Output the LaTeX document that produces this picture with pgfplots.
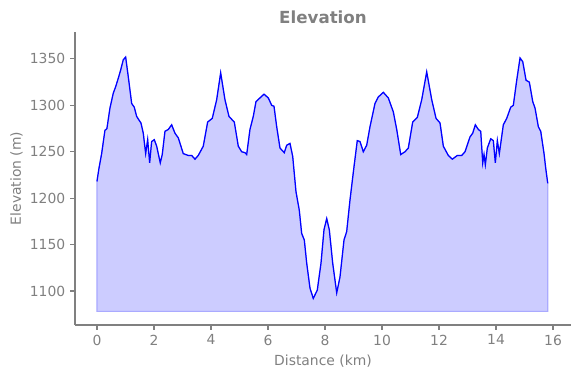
\documentclass[border=0pt]{standalone}
\usepackage{pgfplots}
\pgfplotsset{compat=1.18}
\usepackage{pgfplotstable}
\usepgfplotslibrary{fillbetween}
\usepackage{fontspec}
\setmainfont{DejaVu Sans}
\definecolor{mgray}{HTML}{808080}
\definecolor{fillblue}{HTML}{CCCCFF}
\definecolor{edgeblue}{HTML}{AAAAFF}
\pgfplotstableread{
x y
0.000 1218
0.070 1232
0.165 1248
0.280 1273
0.350 1275
0.456 1297
0.572 1313
0.656 1320
0.747 1329
0.832 1338
0.923 1349
1.007 1352
1.098 1331
1.218 1302
1.309 1298
1.393 1288
1.544 1281
1.625 1270
1.709 1248
1.779 1263
1.849 1238
1.919 1261
2.011 1263
2.095 1256
2.221 1238
2.291 1247
2.386 1272
2.502 1274
2.621 1279
2.737 1270
2.853 1265
3.028 1248
3.204 1246
3.323 1246
3.439 1242
3.554 1246
3.730 1256
3.884 1282
4.046 1286
4.200 1306
4.340 1335
4.491 1306
4.632 1288
4.818 1282
4.958 1256
5.077 1250
5.193 1249
5.253 1247
5.368 1274
5.484 1288
5.579 1304
5.719 1308
5.860 1312
6.011 1308
6.130 1300
6.211 1299
6.305 1277
6.421 1254
6.572 1249
6.656 1257
6.772 1259
6.867 1245
6.982 1207
7.098 1187
7.182 1162
7.274 1155
7.358 1130
7.474 1103
7.589 1092
7.730 1101
7.860 1130
7.965 1166
8.060 1178
8.151 1166
8.270 1130
8.411 1098
8.526 1115
8.667 1155
8.761 1164
8.877 1198
9.018 1234
9.133 1262
9.228 1261
9.344 1250
9.463 1257
9.579 1277
9.754 1302
9.870 1309
10.046 1314
10.221 1308
10.396 1293
10.516 1274
10.656 1247
10.807 1250
10.923 1254
11.077 1282
11.239 1287
11.393 1306
11.568 1336
11.744 1306
11.895 1286
12.035 1281
12.151 1256
12.326 1246
12.467 1242
12.642 1246
12.796 1246
12.912 1250
13.088 1266
13.182 1270
13.274 1279
13.379 1274
13.463 1272
13.533 1238
13.579 1247
13.625 1236
13.695 1254
13.814 1264
13.905 1262
13.975 1238
14.046 1262
14.116 1248
14.256 1279
14.375 1286
14.516 1298
14.607 1300
14.726 1327
14.842 1351
14.937 1347
15.053 1327
15.168 1325
15.288 1304
15.368 1297
15.484 1277
15.568 1272
15.684 1248
15.744 1232
15.814 1216
}\profile
\begin{document}
\begin{tikzpicture}
\begin{axis}[
  at={(0,0)}, anchor=south west,
  scale only axis,
  width=357.12pt, height=210.96pt,
  xmin=-0.77, xmax=16.63, ymin=1063.4, ymax=1379,
  axis x line*=bottom, axis y line*=left,
  axis line style={mgray, line width=0.8pt},
  every tick/.style={mgray, line width=0.8pt},
  tick align=outside, major tick length=3.5pt,
  xtick={0,2,...,16}, ytick={1100,1150,...,1350},
  /pgf/number format/assume math mode=true,
  /pgf/number format/1000 sep={},
  tick label style={font=\fontsize{10}{12}\selectfont, text=mgray},
  xlabel={Distance (km)}, ylabel={Elevation (m)},
  label style={font=\fontsize{10}{12}\selectfont, text=mgray},
  xlabel style={at={(axis description cs:0.5,-0.1398)}, anchor=base},
  ylabel style={at={(axis description cs:-0.109,0.5)}, anchor=base},
  every axis title shift=0pt,
  title={Elevation},
  title style={at={(axis description cs:0.5,1.0275)}, anchor=base, font=\fontsize{12}{14}\selectfont\bfseries, text=mgray},
]
\addplot[name path=prof, draw=none] table[x=x,y=y] {\profile};
\addplot[name path=base, draw=none] coordinates {(0,1078) (15.814,1078)};
\addplot[fill=fillblue, draw=edgeblue, line width=0.8pt] fill between[of=prof and base];
\addplot[blue, line width=0.9pt] table[x=x,y=y] {\profile};
\end{axis}
\pgfresetboundingbox
\useasboundingbox (-54pt,-38.16pt) rectangle (363.6pt,234pt);
\end{tikzpicture}
\end{document}
